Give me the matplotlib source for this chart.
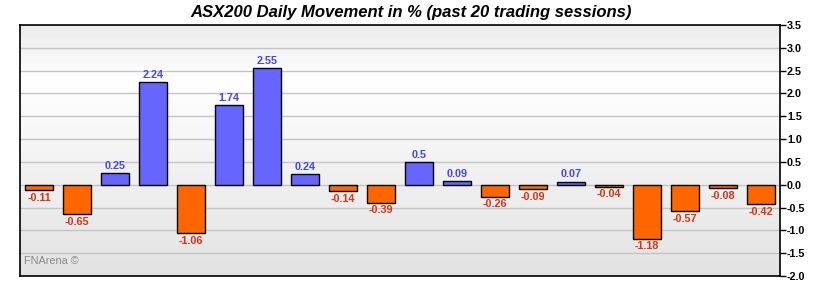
import numpy as np
import matplotlib
matplotlib.use("Agg")
import matplotlib.pyplot as plt
from matplotlib.colors import LinearSegmentedColormap

plt.rcParams['font.family'] = ['Liberation Sans', 'DejaVu Sans']

values = [-0.11, -0.65, 0.25, 2.24, -1.06, 1.74, 2.55, 0.24, -0.14, -0.39,
          0.5, 0.09, -0.26, -0.09, 0.07, -0.04, -1.18, -0.57, -0.08, -0.42]
yticks = [-2.0, -1.5, -1.0, -0.5, 0.0, 0.5, 1.0, 1.5, 2.0, 2.5, 3.0, 3.5]

fig = plt.figure(figsize=(8.2, 2.9), dpi=100)
ax = fig.add_axes([0.0244, 0.0483, 0.9268, 0.8655])

x = np.arange(len(values))
y0, y1 = -2.0, 3.5

# background gradient: grey at bottom, white near top, grey at very top
cmap = LinearSegmentedColormap.from_list(
    'bg', [(0.0, '#e2e2e2'), (0.55, '#f6f6f6'), (0.78, '#ffffff'), (1.0, '#ebebeb')])
grad = np.linspace(0, 1, 256).reshape(-1, 1)
ax.imshow(grad, cmap=cmap, origin='lower', aspect='auto',
          extent=[-0.5, len(values) - 0.5, y0, y1], zorder=0)

for t in yticks[1:-1]:
    ax.axhline(t, color='#c4c4c4', lw=1, zorder=1)

colors = ['#6666ff' if v >= 0 else '#ff6600' for v in values]
ax.bar(x, values, width=0.72, color=colors, edgecolor='black', linewidth=1, zorder=3)

for xi, v in zip(x, values):
    if v >= 0:
        ax.annotate(f'{v:g}', (xi, v), xytext=(0, 1.5), textcoords='offset points',
                    ha='center', va='bottom', fontsize=7.8, fontweight='bold', color='#4444ff', zorder=4)
    else:
        ax.annotate(f'{v:g}', (xi, v), xytext=(0, -2), textcoords='offset points',
                    ha='center', va='top', fontsize=7.8, fontweight='bold', color='#dd3311', zorder=4)

ax.set_xlim(-0.5, len(values) - 0.5)
ax.set_ylim(y0, y1)
ax.set_xticks([])
ax.yaxis.tick_right()
ax.set_yticks(yticks)
ax.set_yticklabels([f'{t:.1f}' for t in yticks], fontsize=7.8, fontweight='bold')
ax.tick_params(axis='y', direction='out', length=4, width=1, pad=1)
for s in ax.spines.values():
    s.set_linewidth(1.2)
    s.set_color('black')

ax.text(0.005, 0.04, 'FNArena ©', transform=ax.transAxes, fontsize=7.8, color='#888888',
        ha='left', va='bottom', zorder=5)

fig.suptitle('ASX200 Daily Movement in % (past 20 trading sessions)', x=0.501, y=0.958,
             fontsize=12, fontweight='bold', fontstyle='italic', va='center')

fig.savefig('out.png', dpi=100)
